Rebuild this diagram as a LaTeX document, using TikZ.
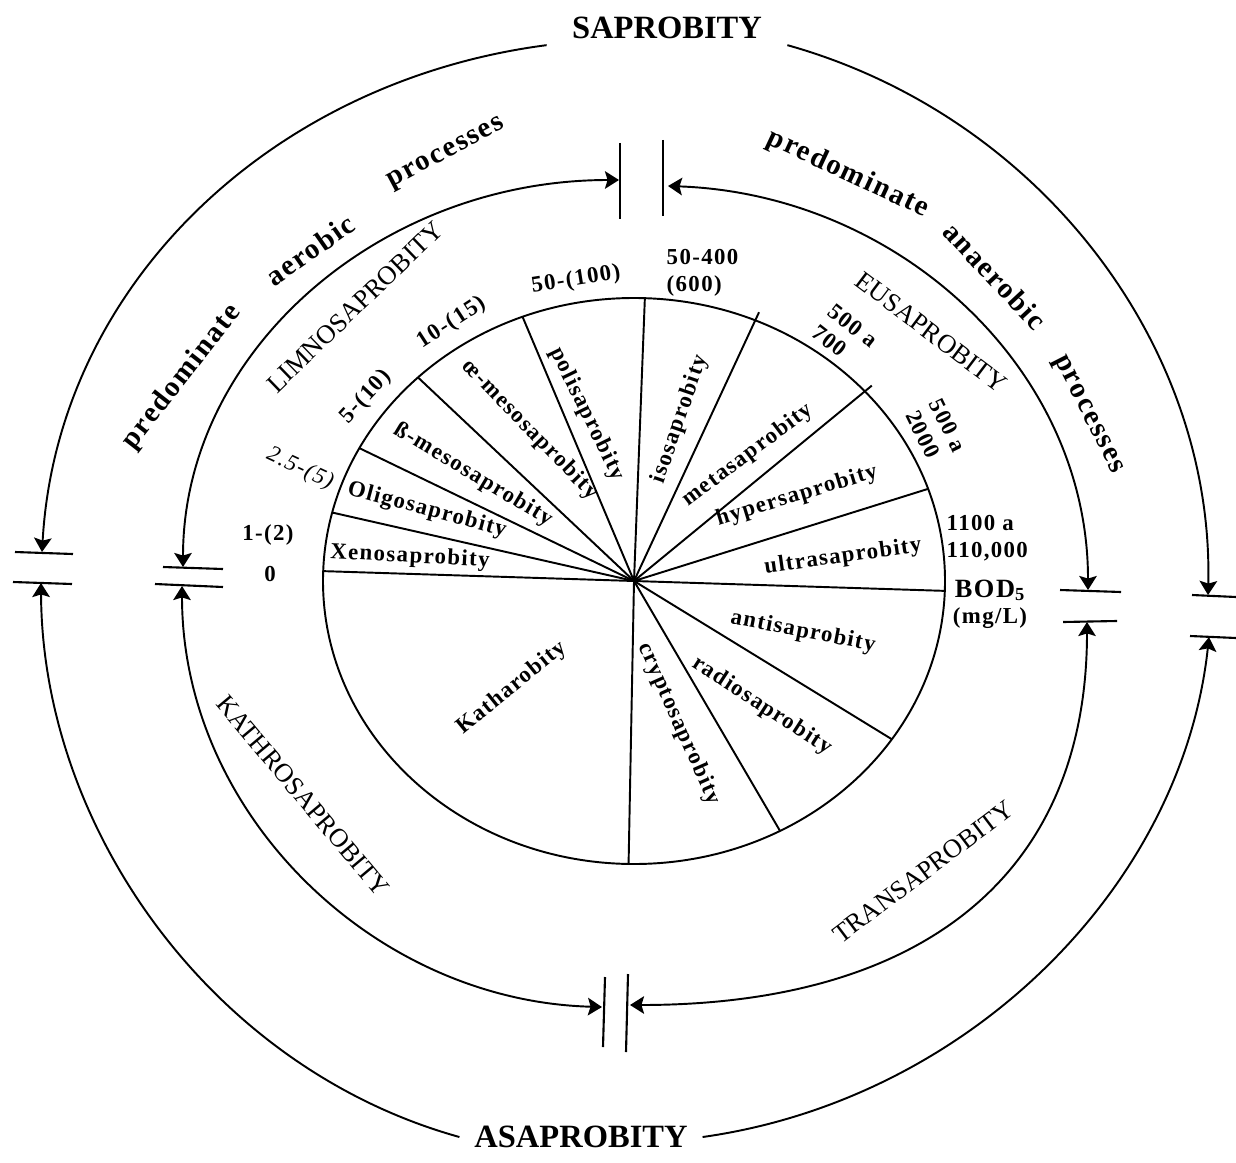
\documentclass[tikz,border=0pt]{standalone}
\usepackage{fontspec}
\setmainfont{Liberation Serif}
\newfontfamily\spacedfont[LetterSpace=6]{Liberation Serif}
\usepackage{tikz}
\usetikzlibrary{arrows.meta}

\tikzset{
  sector/.style={font={\spacedfont\bfseries\fontsize{13}{15}\selectfont}, inner sep=1pt},
  value/.style={sector, align=left},
  zone/.style={font={\fontsize{15}{17}\selectfont}, inner sep=1pt},
  process/.style={font={\spacedfont\bfseries\fontsize{16.5}{18}\selectfont}, inner sep=1pt},
  title/.style={font={\bfseries\fontsize{18.5}{20}\selectfont}, inner ysep=3pt},
  gapbar/.style={line width=1.2pt},
}

\begin{document}
\begin{tikzpicture}[x=0.02cm, y=-0.02cm, line width=1.1pt,
  >={Stealth[length=8pt,width=10pt,inset=1.5pt]}]
  \useasboundingbox (0,0) rectangle (1236,1162);

  % the pie
  \coordinate (c) at (634,581);
  \draw (c) ellipse [x radius=311, y radius=283];
  \foreach \a in {2,34,62,91,182,194,208,226,249,272,341}
    \draw (c) -- ++(\a:311 and 283);
  \foreach \a in {293,318}
    \draw (c) -- ++(\a:320 and 292);

  \node[sector, rotate=-3]  (xeno)  at (410,557) {Xenosaprobity};
  \node[sector, rotate=-15] (oligo) at (427,510) {Oligosaprobity};
  \node[sector, rotate=-31] (beta)  at (473,475) {ß-mesosaprobity};
  \node[sector, rotate=-46] (alpha) at (530,430) {œ-mesosaprobity};
  \node[sector, rotate=-64] (poli)  at (587,414) {polisaprobity};
  \node[sector, rotate=71]  (iso)   at (680,419) {isosaprobity};
  \node[sector, rotate=37]  (meta)  at (748,455) {metasaprobity};
  \node[sector, rotate=17]  (hyper) at (797,496) {hypersaprobity};
  \node[sector, rotate=8]   (ultra) at (843,557) {ultrasaprobity};
  \node[sector, rotate=-11] (anti)  at (803,632) {antisaprobity};
  \node[sector, rotate=-33] (radio) at (762,706) {radiosaprobity};
  \node[sector, rotate=-66] (crypt) at (679,724) {cryptosaprobity};
  \node[sector, rotate=39]  (katha) at (512,688) {Katharobity};

  % BOD5 limits
  \node[sector] (v0)    at (270,574) {0};
  \node[sector] (v1)    at (268,535) {1-(2)};
  \node[sector, rotate=-25, font={\spacedfont\itshape\fontsize{13}{15}\selectfont}] (v2) at (300,469) {2.5-(5)};
  \node[sector, rotate=47] (v5)  at (366,397) {5-(10)};
  \node[sector, rotate=33] (v10) at (452,323) {10-(15)};
  \node[sector, rotate=9]  (v50) at (576,280) {50-(100)};
  \node[value, anchor=west] (v400) at (664,273) {50-400\\(600)};
  \node[value, rotate=-38] (v700)  at (845,336) {500 a\\700};
  \node[value, rotate=-64] (v2000) at (936,431) {500 a\\2000};
  \node[value, anchor=west] (v1100) at (944,538) {1100 a\\110,000};
  \node[sector, align=center] (bod) at (990,604)
    {{\fontsize{15}{17}\selectfont BOD\textsubscript{5}}\\(mg/L)};

  % middle ring
  \node[zone, rotate=44]  (limno)  at (355,307) {LIMNOSAPROBITY};
  \node[zone, rotate=-37] (eusap)  at (931,332) {EUSAPROBITY};
  \node[zone, rotate=-50] (kathro) at (303,796) {KATHROSAPROBITY};
  \node[zone, rotate=37]  (trans)  at (923,872) {TRANSAPROBITY};

  \draw[gapbar] (620,143) -- (620,219);
  \draw[gapbar] (663,140) -- (663,216);
  \draw[gapbar] (163,567) -- (223,569);
  \draw[gapbar] (155,584) -- (223,587);
  \draw[gapbar] (1060,590) -- (1121,592);
  \draw[gapbar] (1063,622) -- (1117,621);
  \draw[gapbar] (605,977) -- (603,1047);
  \draw[gapbar] (628,974) -- (626,1052);

  \coordinate (mt1) at (619,180);
  \coordinate (mt2) at (668,186);
  \coordinate (ml1) at (183,567);
  \coordinate (ml2) at (182,586);
  \coordinate (mr1) at (1088,590);
  \coordinate (mr2) at (1087,622);
  \coordinate (mb1) at (602,1007);
  \coordinate (mb2) at (630,1005);

  \draw[<->] (mt1) .. controls +(-240,0) and +(0,-215) .. (ml1);
  \draw[<->] (mt2) .. controls +(230,8) and +(0,-222) .. (mr1);
  \draw[<->] (ml2) .. controls +(0,228) and +(-228,-6) .. (mb1);
  \draw[<->] (mr2) .. controls +(0,255) and +(290,0) .. (mb2);

  % outer ring
  \node[process, rotate=52]  (pre1) at (182,377) {predominate};
  \node[process, rotate=35]  (aer)  at (310,250) {aerobic};
  \node[process, rotate=28]  (pro1) at (447,154) {processes};
  \node[process, rotate=-25] (pre2) at (848,174) {predominate};
  \node[process, rotate=-47] (ana)  at (995,276) {anaerobic};
  \node[process, rotate=-63] (pro2) at (1087,415) {processes};

  \node[title, inner xsep=14pt] (sap)  at (667,28)   {SAPROBITY};
  \node[title, inner xsep=8pt]  (asap) at (581,1137) {ASAPROBITY};

  \draw[gapbar] (15,552) -- (73,554);
  \draw[gapbar] (13,582) -- (72,584);
  \draw[gapbar] (1192,595) -- (1236,597);
  \draw[gapbar] (1190,636) -- (1236,638);

  \coordinate (ol1) at (42,552);
  \coordinate (ol2) at (41,583);
  \coordinate (or1) at (1208,595);
  \coordinate (or2) at (1209,637);

  \draw[->] (sap.south west) .. controls +(-277,36) and +(15,-265) .. (ol1);
  \draw[->] (sap.south east) .. controls +(253,71) and +(6,-249) .. (or1);
  \draw[->] (asap.west) .. controls +(-248,-69) and +(1,245) .. (ol2);
  \draw[->] (asap.east) .. controls +(264,-37) and +(-27,251) .. (or2);
\end{tikzpicture}
\end{document}
